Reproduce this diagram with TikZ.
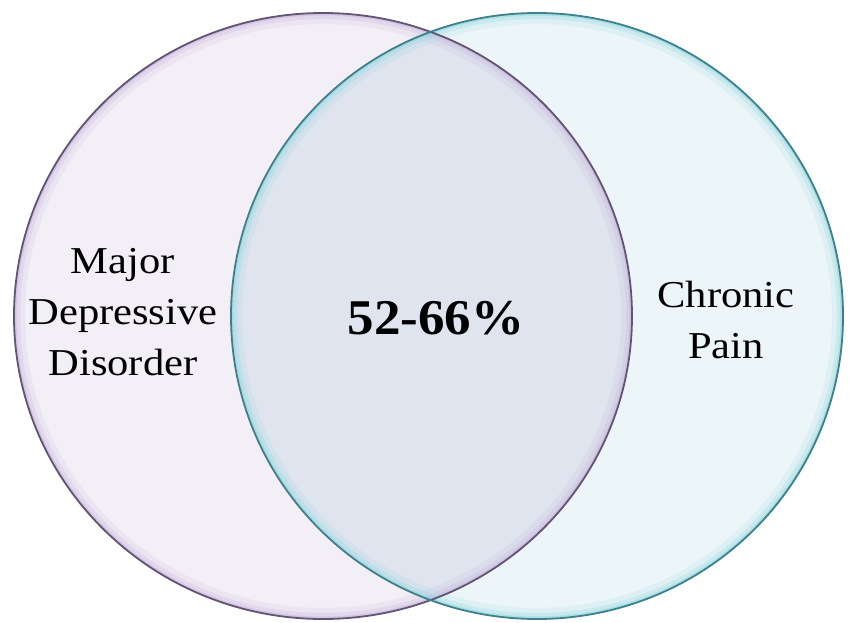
\documentclass[tikz,border=0pt]{standalone}
\usepackage{fontspec}
\setmainfont{Liberation Serif}

\definecolor{mddfill}{RGB}{242,239,246}
\definecolor{cpfill}{RGB}{236,245,248}
\definecolor{bothfill}{RGB}{223,228,238}
\definecolor{mddline}{RGB}{98,84,114}
\definecolor{mddglow}{RGB}{196,178,220}
\definecolor{cpline}{RGB}{62,128,140}
\definecolor{cpglow}{RGB}{140,214,224}

\begin{document}
\begin{tikzpicture}[x=1pt,y=-1pt,
  vlabel/.style={font=\fontsize{38}{51}\selectfont},
  vnumber/.style={font=\fontsize{50}{60}\selectfont\bfseries}]

\useasboundingbox (0,0) rectangle (851,623);

% left ellipse (major depressive disorder)
\def\lx{323}
\def\lrx{309}
% right ellipse (chronic pain)
\def\rx{537}
\def\rrx{306}
% common centre height and vertical radius
\def\cy{316}
\def\ry{303}

\fill[mddfill] (\lx,\cy) ellipse [x radius=\lrx, y radius=\ry];
\fill[cpfill] (\rx,\cy) ellipse [x radius=\rrx, y radius=\ry];

% overlap
\begin{scope}
  \clip (\lx,\cy) ellipse [x radius=\lrx, y radius=\ry];
  \fill[bothfill] (\rx,\cy) ellipse [x radius=\rrx, y radius=\ry];
\end{scope}

% soft glow along the inside of each rim
\begin{scope}
  \clip (\lx,\cy) ellipse [x radius=\lrx, y radius=\ry];
  \foreach \w/\o in {22/0.15,12/0.25,5/0.45} {
    \draw[mddglow, line width=\w pt, opacity=\o] (\lx,\cy) ellipse [x radius=\lrx, y radius=\ry];
  }
\end{scope}
\begin{scope}
  \clip (\rx,\cy) ellipse [x radius=\rrx, y radius=\ry];
  \foreach \w/\o in {22/0.15,12/0.25,5/0.45} {
    \draw[cpglow, line width=\w pt, opacity=\o] (\rx,\cy) ellipse [x radius=\rrx, y radius=\ry];
  }
\end{scope}

% rims
\draw[mddline, line width=1.8pt] (\lx,\cy) ellipse [x radius=\lrx, y radius=\ry];
\draw[cpline, line width=1.8pt] (\rx,\cy) ellipse [x radius=\rrx, y radius=\ry];

\node[vlabel] (mdd) at (123,312) {\scalebox{1.12}[1]{\parbox{7cm}{\centering
Major\\
Depressive\\
Disorder}}};

\node[vlabel] (cp) at (726,320) {\scalebox{1.12}[1]{\parbox{5cm}{\centering
Chronic\\
Pain}}};

\node[vnumber] (both) at (436,318) {\scalebox{1.06}[1]{52-66\%}};

\end{tikzpicture}
\end{document}
